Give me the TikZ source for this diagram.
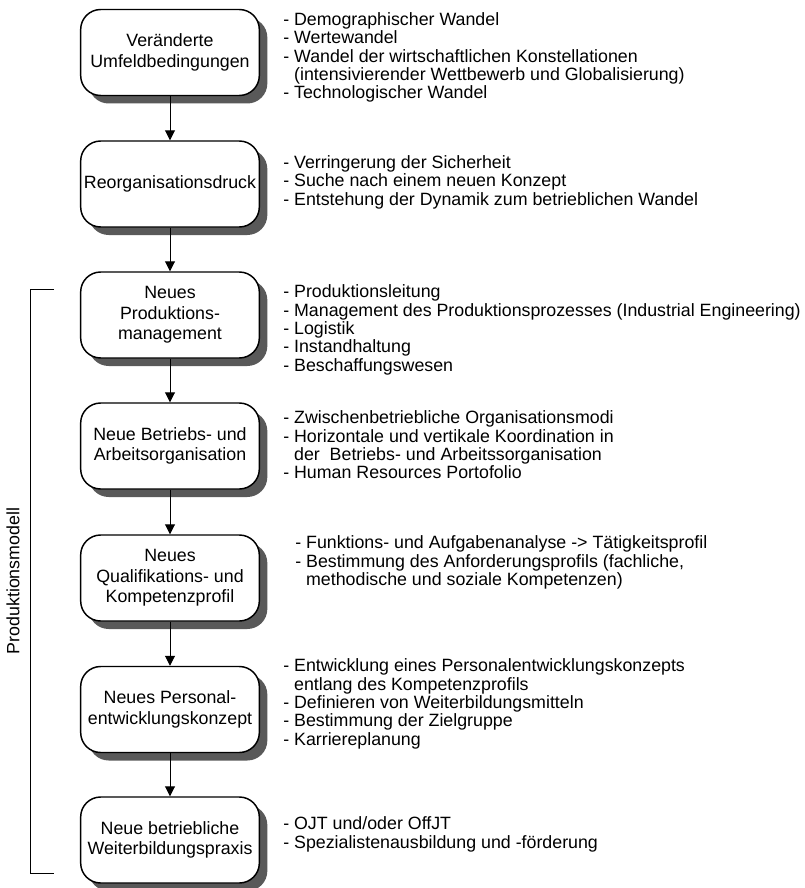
\documentclass[tikz,border=0pt]{standalone}
\usepackage{fontspec}
\setmainfont{Liberation Sans}
\usetikzlibrary{arrows.meta,shadows}

\newcommand{\boxfont}{\fontsize{13.35}{15.4}\selectfont}
\newcommand{\listfont}{\fontsize{13.35}{13.75}\selectfont}
\newcommand{\ein}{\phantom{- }}

\tikzset{
  stepbox/.style={draw=black, line width=1.1pt, fill=white, rounded corners=15pt,
    minimum width=134pt, minimum height=64.5pt, inner sep=1pt, align=center, font=\boxfont,
    drop shadow={shadow xshift=6pt, shadow yshift=-6pt, fill=black!65, opacity=1}},
  liste/.style={anchor=north west, align=left, inner sep=0pt, font=\listfont},
  pfeil/.style={-{Triangle[width=7.5pt,length=7.5pt]}, line width=0.75pt}
}

\begin{document}
\begin{tikzpicture}[x = .75pt, y = -.75pt]
\useasboundingbox (0,0) rectangle (804,888);
% Stufen
\node[stepbox] (umfeld) at (170,52.5) {Veränderte\\Umfeldbedingungen};
\node[stepbox] (reorg) at (170,184) {Reorganisationsdruck};
\node[stepbox] (prodman) at (170,315) {Neues\\Produktions-\\management};
\node[stepbox] (betrorg) at (170,446) {Neue Betriebs- und\\Arbeitsorganisation};
\node[stepbox] (qualprof) at (170,578) {Neues\\Qualifikations- und\\Kompetenzprofil};
\node[stepbox] (persent) at (170,709.5) {Neues Personal-\\entwicklungskonzept};
\node[stepbox] (weiterb) at (170,840) {Neue betriebliche\\Weiterbildungspraxis};
% Pfeile
\draw[pfeil] (umfeld.south) -- (reorg.north);
\draw[pfeil] (reorg.south) -- (prodman.north);
\draw[pfeil] (prodman.south) -- (betrorg.north);
\draw[pfeil] (betrorg.south) -- (qualprof.north);
\draw[pfeil] (qualprof.south) -- (persent.north);
\draw[pfeil] (persent.south) -- (weiterb.north);
% Stichpunkte
\node[liste] (umfeldList) at (283,12.5) {- Demographischer Wandel\\- Wertewandel\\- Wandel der wirtschaftlichen Konstellationen\\\ein(intensivierender Wettbewerb und Globalisierung)\\- Technologischer Wandel};
\node[liste] (reorgList) at (283,155.5) {- Verringerung der Sicherheit\\- Suche nach einem neuen Konzept\\- Entstehung der Dynamik zum betrieblichen Wandel};
\node[liste] (prodmanList) at (283,284.5) {- Produktionsleitung\\- Management des Produktionsprozesses (Industrial Engineering)\\- Logistik\\- Instandhaltung\\- Beschaffungswesen};
\node[liste] (betrorgList) at (283,410.5) {- Zwischenbetriebliche Organisationsmodi\\- Horizontale und vertikale Koordination in\\\ein der~ Betriebs- und Arbeitssorganisation\\- Human Resources Portofolio};
\node[liste] (qualprofList) at (295,535.5) {- Funktions- und Aufgabenanalyse -> Tätigkeitsprofil\\- Bestimmung des Anforderungsprofils (fachliche,\\\ein methodische und soziale Kompetenzen)};
\node[liste] (persentList) at (283,658.5) {- Entwicklung eines Personalentwicklungskonzepts\\\ein entlang des Kompetenzprofils\\- Definieren von Weiterbildungsmitteln\\- Bestimmung der Zielgruppe\\- Karriereplanung};
\node[liste] (weiterbList) at (283,816.5) {- OJT und/oder OffJT\\- Spezialistenausbildung und -förderung};
% Klammer Produktionsmodell
\coordinate (klTop) at (54,289);
\coordinate (klBot) at (54,873);
\draw[line width=.75pt] (klTop) -- ++(-24,0) |- (klBot);
\node[rotate=90, font=\boxfont] (modell) at (13,581) {Produktionsmodell};
\end{tikzpicture}
\end{document}
